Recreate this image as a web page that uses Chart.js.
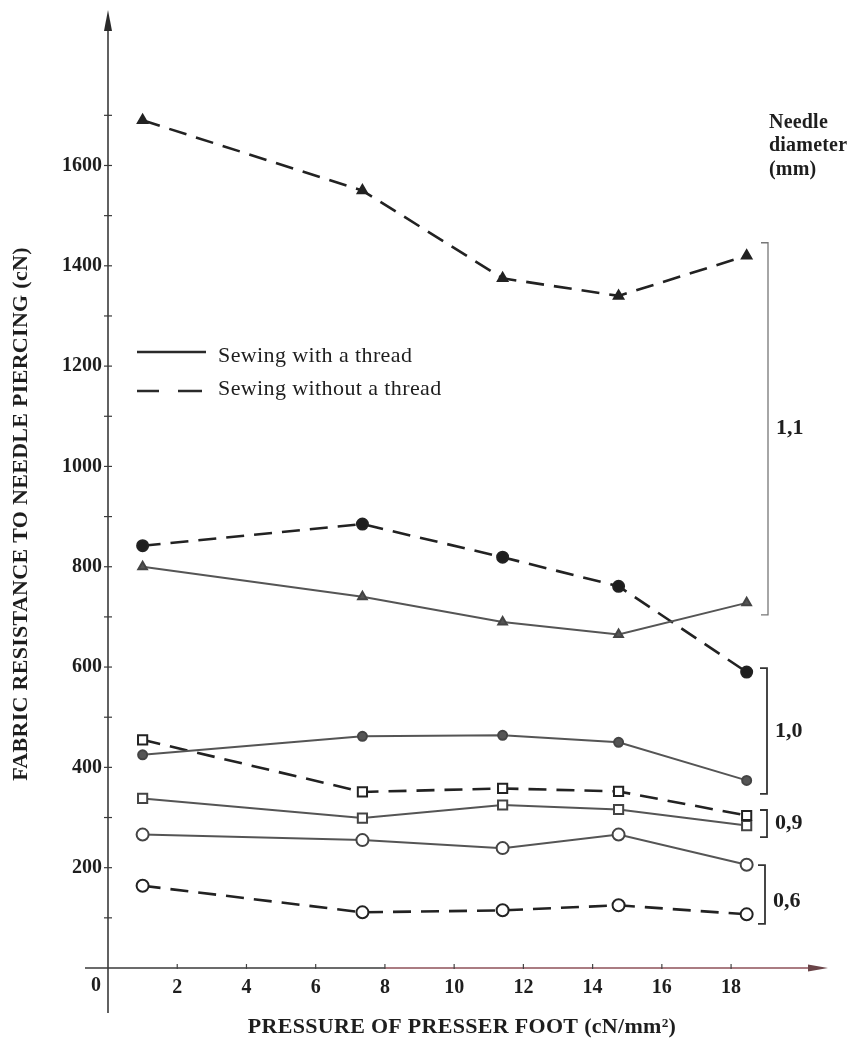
<!DOCTYPE html>
<html>
<head>
<meta charset="utf-8">
<script src="https://cdn.jsdelivr.net/npm/chart.js@4.4.1/dist/chart.umd.min.js"></script>
<style>
  html, body { margin: 0; padding: 0; background: #fff; }
  canvas { display: block; }
</style>
</head>
<body>
<canvas id="chart" width="855" height="1045"></canvas>
<script>
// pressure of presser foot (cN/mm2)
const pressure = [1, 7.35, 11.4, 14.75, 18.45];

// fabric resistance (cN), per needle diameter, with / without thread
const d11Without = [1690, 1550, 1375, 1340, 1420];
const d11With    = [800, 740, 690, 665, 728];
const d10Without = [842, 885, 819, 761, 590];
const d10With    = [425, 462, 464, 450, 374];
const d09Without = [455, 351, 358, 352, 304];
const d09With    = [338, 299, 325, 316, 284];
const d06With    = [266, 255, 239, 266, 206];
const d06Without = [164, 111, 115, 125, 107];

const xTicks = [2, 4, 6, 8, 10, 12, 14, 16, 18];
const yTicks = [200, 400, 600, 800, 1000, 1200, 1400, 1600];

// needle diameter groups: label, bracket from/to (cN)
const groups = [
  { label: '1,1', from: 1446, to: 704 },
  { label: '1,0', from: 598, to: 347 },
  { label: '0,9', from: 315, to: 261 },
  { label: '0,6', from: 205, to: 88 }
];

function pts(vals) {
  return vals.map((v, i) => ({ x: pressure[i], y: v }));
}

const DASH = [18, 10];
function withoutThread(vals, style, fill, r) {
  return {
    data: pts(vals),
    borderColor: '#222',
    borderWidth: 2.6,
    borderDash: DASH,
    pointStyle: style,
    pointRadius: r,
    pointBackgroundColor: fill,
    pointBorderColor: '#222',
    pointBorderWidth: 2
  };
}
function withThread(vals, style, fill, r) {
  return {
    data: pts(vals),
    borderColor: '#555',
    borderWidth: 2,
    pointStyle: style,
    pointRadius: r,
    pointBackgroundColor: fill,
    pointBorderColor: '#444',
    pointBorderWidth: 2
  };
}

const serif = 'Liberation Serif';

const deco = {
  id: 'deco',
  afterDraw(chart) {
    const ctx = chart.ctx;
    const xs = chart.scales.x, ys = chart.scales.y;
    const x0 = xs.getPixelForValue(0), y0 = ys.getPixelForValue(0);
    const top = chart.chartArea.top;
    ctx.save();

    // y axis with arrow
    ctx.strokeStyle = '#3a3a3a';
    ctx.fillStyle = '#2a2a2a';
    ctx.lineWidth = 1.6;
    ctx.beginPath();
    ctx.moveTo(x0, top + 16);
    ctx.lineTo(x0, y0 + 45);
    ctx.stroke();
    ctx.beginPath();
    ctx.moveTo(x0, top);
    ctx.lineTo(x0 - 4, top + 21);
    ctx.lineTo(x0 + 4, top + 21);
    ctx.closePath();
    ctx.fill();
    ctx.lineWidth = 1.2;
    for (let v = 100; v <= 1700; v += 100) {
      const p = ys.getPixelForValue(v);
      ctx.beginPath();
      ctx.moveTo(x0 - 4, p);
      ctx.lineTo(x0 + 4, p);
      ctx.stroke();
    }

    // x axis with arrow
    ctx.lineWidth = 1.6;
    ctx.strokeStyle = '#3a3a3a';
    ctx.beginPath();
    ctx.moveTo(x0 - 23, y0);
    ctx.lineTo(xs.getPixelForValue(8), y0);
    ctx.stroke();
    ctx.strokeStyle = '#8e5058';
    ctx.beginPath();
    ctx.moveTo(xs.getPixelForValue(8), y0);
    ctx.lineTo(chart.chartArea.right - 16, y0);
    ctx.stroke();
    ctx.fillStyle = '#6a4448';
    ctx.beginPath();
    ctx.moveTo(chart.chartArea.right, y0);
    ctx.lineTo(chart.chartArea.right - 20, y0 - 3.5);
    ctx.lineTo(chart.chartArea.right - 20, y0 + 3.5);
    ctx.closePath();
    ctx.fill();
    ctx.strokeStyle = '#444';
    ctx.lineWidth = 1.2;
    xTicks.forEach(v => {
      const p = xs.getPixelForValue(v);
      ctx.beginPath();
      ctx.moveTo(p, y0 - 4);
      ctx.lineTo(p, y0 + 1);
      ctx.stroke();
    });

    ctx.fillStyle = '#1e1e1e';
    ctx.font = 'bold 20px "' + serif + '"';
    ctx.textAlign = 'center';
    ctx.textBaseline = 'middle';
    ctx.fillText('0', x0 - 12, y0 + 18);

    // axis titles
    ctx.font = 'bold 22px "' + serif + '"';
    ctx.letterSpacing = '0.3px';
    ctx.fillText('PRESSURE OF PRESSER FOOT (cN/mm\u00B2)', 462, 1027);
    ctx.save();
    ctx.translate(21, 514);
    ctx.rotate(-Math.PI / 2);
    ctx.fillText('FABRIC RESISTANCE TO NEEDLE PIERCING (cN)', 0, 0);
    ctx.restore();

    // legend
    ctx.strokeStyle = '#2a2a2a';
    ctx.lineWidth = 2.4;
    ctx.beginPath();
    ctx.moveTo(137, 352);
    ctx.lineTo(206, 352);
    ctx.stroke();
    ctx.beginPath();
    ctx.moveTo(137, 391);
    ctx.lineTo(159, 391);
    ctx.moveTo(178, 391);
    ctx.lineTo(202, 391);
    ctx.stroke();
    ctx.font = '22px "' + serif + '"';
    ctx.letterSpacing = '0.4px';
    ctx.textAlign = 'left';
    ctx.fillText('Sewing with a thread', 218, 356);
    ctx.fillText('Sewing without a thread', 218, 389);

    // needle diameter header
    ctx.font = 'bold 20px "' + serif + '"';
    ctx.letterSpacing = '0.2px';
    ctx.fillText('Needle', 769, 123);
    ctx.fillText('diameter', 769, 146);
    ctx.fillText('(mm)', 769, 170);

    // brackets
    groups.forEach((g, i) => {
      const a = ys.getPixelForValue(g.from), b = ys.getPixelForValue(g.to);
      const bx = i === 0 ? 768 : (i === 3 ? 765 : 767);
      ctx.strokeStyle = i === 0 ? '#777' : '#333';
      ctx.lineWidth = i === 0 ? 1.3 : 1.8;
      ctx.beginPath();
      ctx.moveTo(bx - 7, a);
      ctx.lineTo(bx, a);
      ctx.lineTo(bx, b);
      ctx.lineTo(bx - 7, b);
      ctx.stroke();
      ctx.font = 'bold 22px "' + serif + '"';
      ctx.letterSpacing = '0px';
      ctx.fillStyle = '#1e1e1e';
      const my = i === 3 ? (a + b) / 2 + 7 : (a + b) / 2;
      ctx.fillText(g.label, bx + 8, my);
    });

    ctx.restore();
  }
};

new Chart(document.getElementById('chart'), {
  type: 'line',
  data: {
    datasets: [
      withoutThread(d11Without, 'triangle', '#222', 5.5),
      withThread(d11With, 'triangle', '#555', 5),
      withoutThread(d10Without, 'circle', '#1e1e1e', 5.5),
      withThread(d10With, 'circle', '#555', 4.5),
      withoutThread(d09Without, 'rect', '#fff', 6.5),
      withThread(d09With, 'rect', '#fff', 6.5),
      withThread(d06With, 'circle', '#fff', 6),
      withoutThread(d06Without, 'circle', '#fff', 6)
    ]
  },
  options: {
    responsive: false,
    animation: false,
    devicePixelRatio: 1,
    layout: { padding: { top: 10, right: 27, left: 0, bottom: 0 } },
    plugins: { legend: { display: false }, tooltip: { enabled: false } },
    scales: {
      x: {
        type: 'linear',
        min: 0,
        max: 20.8,
        grid: { display: false, drawTicks: false },
        border: { display: false },
        afterBuildTicks(s) { s.ticks = xTicks.map(v => ({ value: v })); },
        afterFit(s) { s.height = 77; s.paddingLeft = 0; s.paddingRight = 0; },
        ticks: {
          padding: 8,
          color: '#1e1e1e',
          font: { family: serif, weight: 'bold', size: 20 },
          callback: v => String(v)
        }
      },
      y: {
        type: 'linear',
        min: 0,
        max: 1910,
        grid: { display: false, drawTicks: false },
        border: { display: false },
        afterBuildTicks(s) { s.ticks = yTicks.map(v => ({ value: v })); },
        afterFit(s) { s.width = 108; s.paddingTop = 0; s.paddingBottom = 0; },
        ticks: {
          padding: 6,
          color: '#1e1e1e',
          font: { family: serif, weight: 'bold', size: 20 },
          callback: v => String(v)
        }
      }
    }
  },
  plugins: [deco]
});
</script>
</body>
</html>
